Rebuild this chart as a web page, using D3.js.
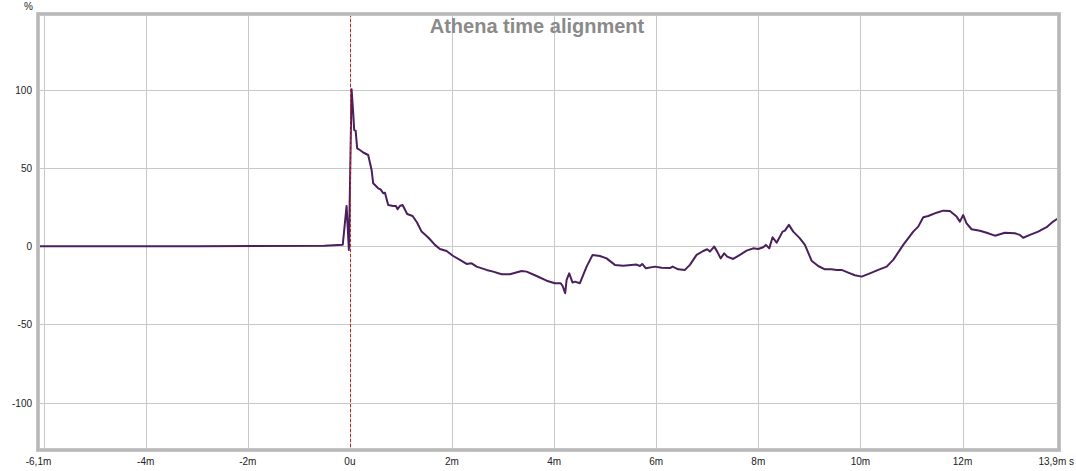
<!DOCTYPE html>
<html>
<head>
<meta charset="utf-8">
<script src="https://cdn.jsdelivr.net/npm/d3@7"></script>
<style>
  html, body { margin: 0; padding: 0; background: #ffffff; }
  svg { display: block; }
</style>
</head>
<body>
<svg id="chart" width="1076" height="471"></svg>
<script>
// ---- data ----
const chartTitle = "Athena time alignment";
const xDomain = [-6.1, 13.9];           // ms
const yDomain = [-130.3, 148.6];        // %
const xGridTicks = [-6, -4, -2, 0, 2, 4, 6, 8, 10, 12];
const xTickValues = [-6.1, -4, -2, 0, 2, 4, 6, 8, 10, 12];
const xTickLabels = ["-6,1m", "-4m", "-2m", "0u", "2m", "4m", "6m", "8m", "10m", "12m"];
const xEndLabel = "13,9m s";
const yTickValues = [-100, -50, 0, 50, 100];
const yTickLabels = ["-100", "-50", "0", "50", "100"];
const yUnitLabel = "%";
const markerTime = 0;
// time in ms
const timeMs = [
  -6.1, -3.0, -0.5, -0.14, -0.065, -0.020, 0.033, 0.065, 0.084, 0.112, 0.143, 0.196, 0.261, 0.358,
  0.425, 0.456, 0.554, 0.601, 0.652, 0.686, 0.750, 0.848, 0.901, 0.934, 0.979, 1.032, 1.122, 1.228,
  1.318, 1.404, 1.502, 1.567, 1.665, 1.763, 1.894, 2.024, 2.155, 2.286, 2.384, 2.482, 2.678, 2.807,
  2.972, 3.134, 3.363, 3.461, 3.657, 3.853, 4.016, 4.127, 4.167, 4.217, 4.245, 4.296, 4.362, 4.407,
  4.505, 4.637, 4.754, 4.897, 5.028, 5.191, 5.354, 5.616, 5.681, 5.726, 5.798, 5.975, 6.106, 6.268,
  6.321, 6.431, 6.562, 6.660, 6.791, 6.921, 6.999, 7.052, 7.136, 7.195, 7.262, 7.332, 7.391, 7.508,
  7.640, 7.771, 7.900, 7.998, 8.096, 8.149, 8.214, 8.280, 8.359, 8.476, 8.521, 8.600, 8.684, 8.782,
  8.815, 8.913, 9.044, 9.173, 9.305, 9.436, 9.534, 9.632, 9.761, 9.893, 10.024, 10.186, 10.349, 10.514,
  10.643, 10.839, 11.035, 11.133, 11.231, 11.329, 11.493, 11.622, 11.753, 11.884, 11.949, 12.014, 12.080,
  12.178, 12.341, 12.472, 12.635, 12.830, 13.026, 13.124, 13.189, 13.320, 13.483, 13.647, 13.776, 13.843, 13.9
];
// amplitude in %
const amplitude = [
  0, 0, 0.3, 1.0, 25.8, -2.3, 100.4, 85, 74.4, 74, 62.7, 61.6, 60, 58.4,
  48.8, 40.3, 37.1, 36.4, 33.9, 34.3, 26.4, 25.8, 25.8, 23.7, 25.8, 26.4, 20.7, 19.4,
  15.1, 9.4, 6.6, 4.5, 0.9, -1.7, -3, -6.2, -8.7, -11.3, -10.9, -13, -15.1, -16.2,
  -17.9, -17.9, -15.8, -16.2, -19, -22, -23.6, -23.6, -25.4, -30, -21.5, -17.3, -23.2, -22.6,
  -23.6, -13, -5.5, -6.2, -7.7, -11.9, -12.4, -11.7, -12.6, -11.3, -14.1, -13, -13.7, -13.9,
  -13, -14.7, -15.1, -11.9, -5.5, -3, -1.9, -3.4, -0.2, -3.4, -7.7, -4.5, -6.6, -8.1,
  -5.5, -2.8, -1.3, -1.7, -0.6, 0.9, -1.3, 5.8, 2.3, 9.4, 10, 13.7, 9.4, 6.2,
  5.1, 0.9, -9.2, -12.6, -14.7, -14.7, -15.1, -15.1, -16.8, -18.5, -19.4, -17.3, -15.1, -13,
  -8.7, 0.9, 9.4, 12.6, 18.6, 19.4, 21.5, 22.8, 22.6, 19, 15.8, 20, 14.7,
  10.9, 10, 8.7, 6.8, 8.7, 8.3, 7.3, 5.5, 7.3, 9.4, 12.2, 15.8, 17.3, 17.5
];

// ---- layout ----
const plot = { left: 38.5, right: 1059.5, top: 14, bottom: 450 };
const svg = d3.select("#chart");
const x = d3.scaleLinear().domain(xDomain).range([plot.left, plot.right]);
const y = d3.scaleLinear().domain(yDomain).range([plot.bottom, plot.top]);
const font = "'Liberation Sans', Arial, sans-serif";
const labelSize = 10;
const labelColor = "#222";

svg.append("defs").append("clipPath").attr("id", "clip")
  .append("rect").attr("x", plot.left).attr("y", plot.top)
  .attr("width", plot.right - plot.left).attr("height", plot.bottom - plot.top);

// grid
const grid = svg.append("g").attr("clip-path", "url(#clip)");
grid.selectAll("line.vg").data(xGridTicks).enter().append("line")
  .attr("x1", d => Math.round(x(d)) + 0.5).attr("x2", d => Math.round(x(d)) + 0.5)
  .attr("y1", plot.top).attr("y2", plot.bottom)
  .attr("stroke", "#c8c8c8").attr("stroke-width", 1);
grid.selectAll("line.hg").data(yTickValues).enter().append("line")
  .attr("y1", d => Math.round(y(d)) + 0.5).attr("y2", d => Math.round(y(d)) + 0.5)
  .attr("x1", plot.left).attr("x2", plot.right)
  .attr("stroke", "#c8c8c8").attr("stroke-width", 1);

// title
svg.append("text").attr("x", 537).attr("y", 33)
  .attr("text-anchor", "middle").attr("font-family", font)
  .attr("font-size", 20).attr("font-weight", "bold").attr("fill", "#8a8a8a")
  .text(chartTitle);

// data line
const pts = timeMs.map((t, i) => [t, amplitude[i]]);
svg.append("path").datum(pts).attr("clip-path", "url(#clip)")
  .attr("d", d3.line().x(d => x(d[0])).y(d => y(d[1])))
  .attr("fill", "none").attr("stroke", "#4a1f5c").attr("stroke-width", 2)
  .attr("stroke-linejoin", "round");

// marker line
svg.append("line")
  .attr("x1", Math.round(x(markerTime)) + 0.5).attr("x2", Math.round(x(markerTime)) + 0.5)
  .attr("y1", plot.top).attr("y2", plot.bottom)
  .attr("stroke", "#d02020").attr("stroke-width", 1).attr("stroke-dasharray", "3,2");

// frame
svg.append("rect").attr("x", 38).attr("y", 14).attr("width", 1021).attr("height", 436)
  .attr("fill", "none").attr("stroke", "#c4c4c4").attr("stroke-width", 4);
svg.append("rect").attr("x", 38).attr("y", 14).attr("width", 1021).attr("height", 436)
  .attr("fill", "none").attr("stroke", "#b4b4b4").attr("stroke-width", 1.5);

// y labels
svg.selectAll("text.yl").data(yTickValues).enter().append("text")
  .attr("x", 32).attr("y", d => y(d) + 4)
  .attr("text-anchor", "end").attr("font-family", font).attr("font-size", labelSize).attr("fill", labelColor)
  .text((d, i) => yTickLabels[i]);
svg.append("text").attr("x", 33).attr("y", 10).attr("text-anchor", "end")
  .attr("font-family", font).attr("font-size", labelSize).attr("fill", labelColor).text(yUnitLabel);

// x labels
svg.selectAll("text.xl").data(xTickValues).enter().append("text")
  .attr("x", d => x(d)).attr("y", 465)
  .attr("text-anchor", "middle").attr("font-family", font).attr("font-size", labelSize).attr("fill", labelColor)
  .text((d, i) => xTickLabels[i]);
svg.append("text").attr("x", 1074).attr("y", 465).attr("text-anchor", "end")
  .attr("font-family", font).attr("font-size", labelSize).attr("fill", labelColor).text(xEndLabel);
</script>
</body>
</html>
